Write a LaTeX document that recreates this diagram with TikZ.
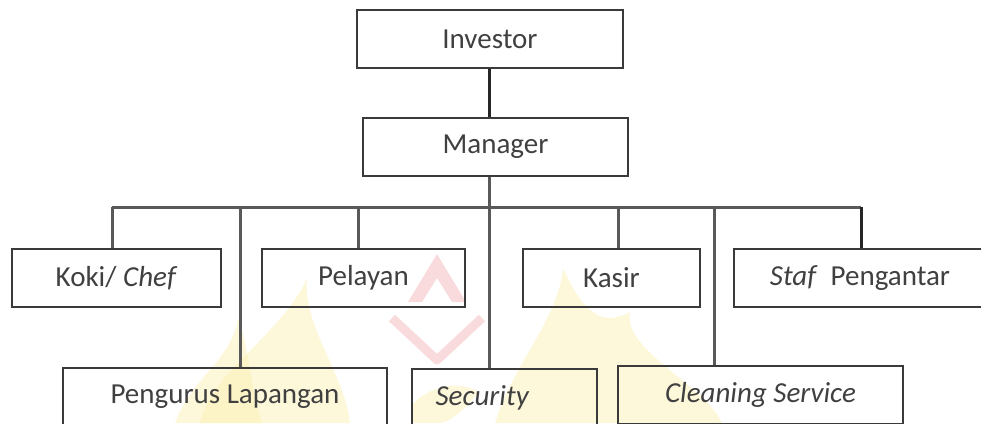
\documentclass[tikz,border=0pt]{standalone}
\usepackage{fontspec}
\setmainfont{Carlito}
\definecolor{boxline}{HTML}{3A3A3A}
\definecolor{conn}{HTML}{595959}
\definecolor{txt}{HTML}{404040}
\definecolor{flame}{HTML}{FBEFAE}
\definecolor{pinkw}{HTML}{F4B8BC}
\begin{document}
\begin{tikzpicture}[x=1pt,y=-1pt,
  box/.style={draw=boxline,line width=1.8pt,inner sep=0pt,minimum height=58pt,
    font=\fontsize{29}{34}\selectfont,text=txt,anchor=center},
  txtnode/.style={inner sep=0pt,font=\fontsize{29}{34}\selectfont,text=txt},
  link/.style={draw=conn,line width=3pt},
  blink/.style={draw=black!85,line width=3pt}]
\useasboundingbox (0,0) rectangle (981,423);
\clip (0,0) rectangle (981,423);
% faint watermark
\begin{scope}[opacity=0.45]
\fill[flame] (200,423) .. controls (212,370) and (282,335) .. (307,278)
  .. controls (302,325) and (345,375) .. (350,423) -- cycle;
\fill[flame] (175,423) .. controls (190,380) and (232,360) .. (238,318)
  .. controls (250,350) and (250,390) .. (262,423) -- cycle;
\fill[flame] (495,423) .. controls (515,360) and (558,320) .. (563,268)
  .. controls (580,305) and (598,330) .. (630,312)
  .. controls (622,350) and (705,385) .. (722,423) -- cycle;
\fill[flame] (412,405) .. controls (430,385) and (460,380) .. (478,392)
  .. controls (470,405) and (450,423) .. (440,423) -- (412,423) -- cycle;
\end{scope}
\begin{scope}[opacity=0.5]
\fill[pinkw] (437,254) -- (466,302) -- (452,302) -- (437,278) -- (422,302) -- (408,302) -- cycle;
\draw[pinkw,line width=9pt,line join=round] (392,318) -- (437,360) -- (482,318);
\end{scope}
% nodes
\node[box,minimum width=266pt] (inv) at (490,39) {Investor};
\node[box,minimum width=265pt] (mgr) at (495.5,147) {Manager};
\node[box,minimum width=209pt] (koki) at (116.5,278) {Koki/ \textit{Chef}};
\node[box,minimum width=203pt] (pel) at (363.5,278) {Pelayan};
\node[box,minimum width=177pt] (kas) at (611.5,278) {Kasir};
\node[box,minimum width=252pt] (staf) at (860,278) {\textit{Staf}\ \ Pengantar};
\node[box,minimum width=324pt] (peng) at (225,397) {Pengurus Lapangan};
\node[box,minimum width=185pt] (sec) at (504.5,398) {};
\node[txtnode] (sect) at (482.5,398) {\textit{Security}};
\node[box,minimum width=285pt] (clean) at (760.5,395) {\textit{Cleaning Service}};
% bus junctions
\coordinate (bm) at (489,207);
\coordinate (b1) at (112,207);
\coordinate (b2) at (240,207);
\coordinate (b3) at (358,207);
\coordinate (b5) at (618,207);
\coordinate (b6) at (714,207);
\coordinate (b7) at (861,207);
% connectors
\draw[blink] (inv.south -| bm) -- (mgr.north -| bm);
\draw[link] (mgr.south -| bm) -- (bm);
\draw[link] (b1) -- (b7);
\draw[link] (b1) -- (b1 |- koki.north);
\draw[link] (b2) -- (b2 |- peng.north);
\draw[link] (b3) -- (b3 |- pel.north);
\draw[link] (bm) -- (bm |- sec.north);
\draw[link] (b5) -- (b5 |- kas.north);
\draw[link] (b6) -- (b6 |- clean.north);
\draw[blink] (b7) -- (b7 |- staf.north);
\end{tikzpicture}
\end{document}
